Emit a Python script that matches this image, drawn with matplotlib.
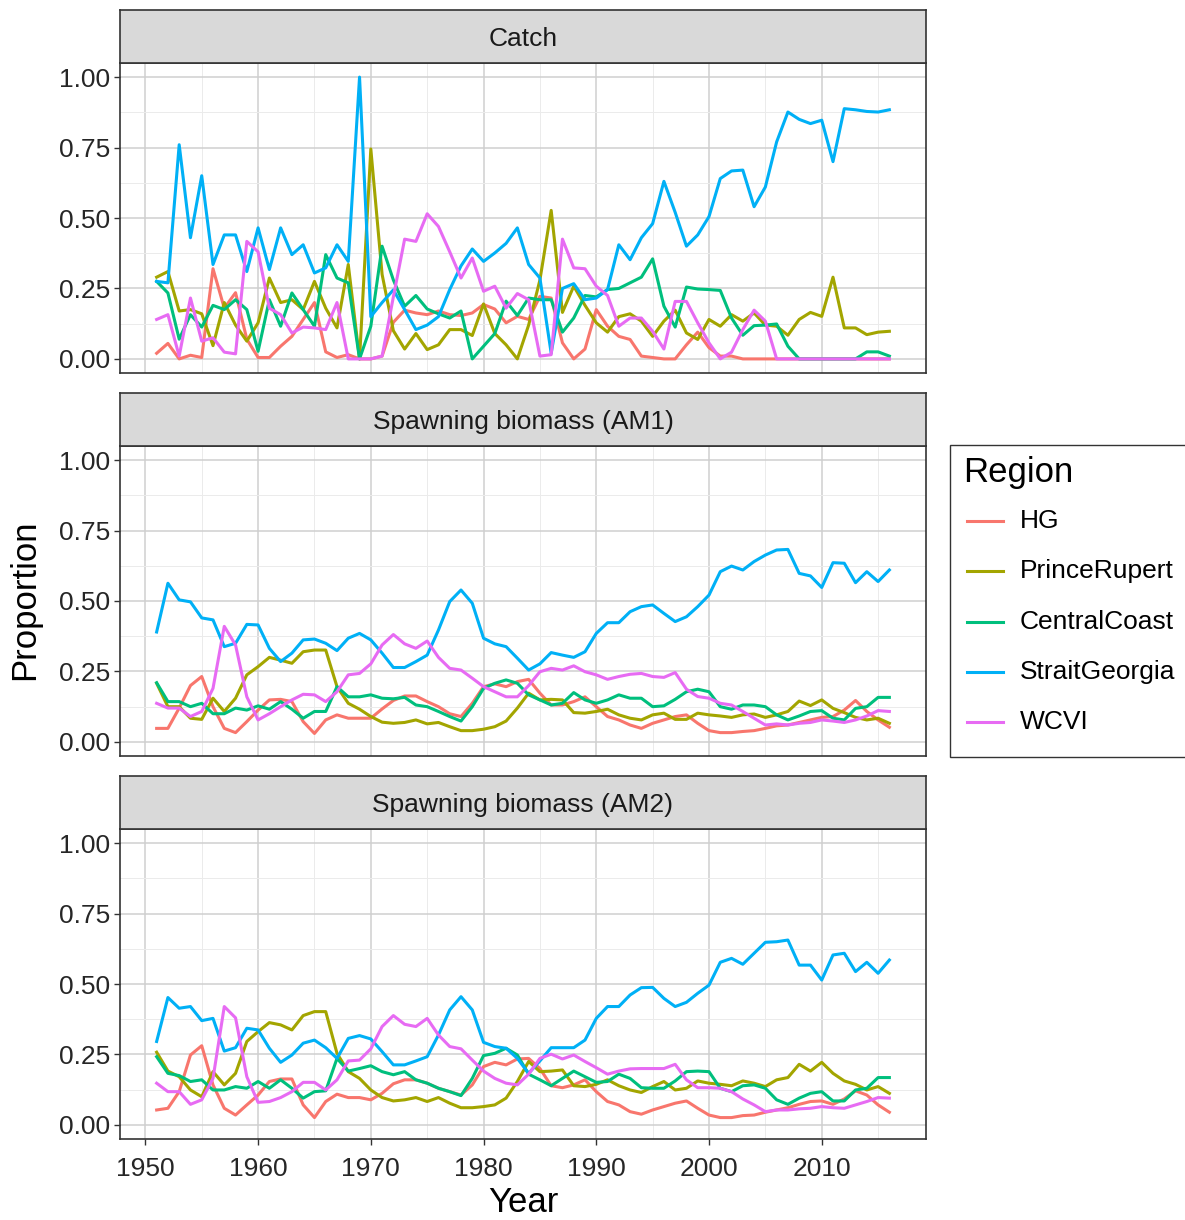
import matplotlib
matplotlib.use("Agg")
import matplotlib.pyplot as plt
from matplotlib.patches import Rectangle
from matplotlib.lines import Line2D

plt.rcParams['font.family'] = ['Liberation Sans', 'DejaVu Sans']

# --- Data: proportion by region, 1951-2016 ---
years = list(range(1951, 2017))
regions = ["HG", "PrinceRupert", "CentralCoast", "StraitGeorgia", "WCVI"]
colors = ["#F8766D", "#A3A500", "#00BF7D", "#00B0F6", "#E76BF3"]

catch_hg = [0.02, 0.055, 0.0, 0.013, 0.005, 0.32, 0.18, 0.235, 0.07, 0.005, 0.005, 0.045, 0.08, 0.14, 0.20, 0.025, 0.005, 0.015, 0.0, 0.0, 0.01, 0.13,
            0.173, 0.163, 0.157, 0.17, 0.157, 0.154, 0.163, 0.193, 0.177, 0.128, 0.151, 0.14, 0.222, 0.216, 0.057, 0.0, 0.035, 0.175, 0.116, 0.08, 0.069, 0.01, 0.005,
            0.0, 0.0, 0.05, 0.095, 0.04, 0.01, 0.01, 0.0, 0.0, 0.0, 0.0, 0.0, 0.0, 0.0, 0.0, 0.0, 0.0, 0.0, 0.0, 0.0, 0.0]
catch_pr = [0.29, 0.31, 0.17, 0.175, 0.16, 0.047, 0.2, 0.12, 0.063, 0.128, 0.287, 0.2, 0.21, 0.175, 0.275, 0.18, 0.11, 0.335, 0.0, 0.745, 0.30, 0.10,
            0.035, 0.09, 0.033, 0.05, 0.104, 0.104, 0.083, 0.195, 0.09, 0.05, 0.0, 0.12, 0.28, 0.527, 0.165, 0.258, 0.19, 0.128, 0.095, 0.15, 0.16, 0.134, 0.08,
            0.134, 0.173, 0.092, 0.069, 0.14, 0.116, 0.157, 0.134, 0.163, 0.12, 0.116, 0.084, 0.14, 0.165, 0.151, 0.29, 0.11, 0.11, 0.086, 0.095, 0.098]
catch_cc = [0.275, 0.234, 0.07, 0.157, 0.113, 0.19, 0.175, 0.21, 0.175, 0.027, 0.21, 0.116, 0.234, 0.175, 0.116, 0.37, 0.287, 0.27, 0.0, 0.116, 0.40, 0.28,
            0.187, 0.225, 0.177, 0.16, 0.145, 0.17, 0.0, 0.045, 0.09, 0.205, 0.154, 0.216, 0.21, 0.21, 0.095, 0.145, 0.225, 0.22, 0.246, 0.25, 0.27, 0.29, 0.355,
            0.187, 0.113, 0.255, 0.248, 0.246, 0.243, 0.145, 0.084, 0.118, 0.12, 0.124, 0.045, 0.0, 0.0, 0.0, 0.0, 0.0, 0.0, 0.025, 0.025, 0.01]
catch_sg = [0.275, 0.27, 0.76, 0.43, 0.65, 0.335, 0.44, 0.44, 0.31, 0.465, 0.317, 0.465, 0.37, 0.405, 0.305, 0.323, 0.405, 0.346, 1.0, 0.15, 0.2, 0.245,
            0.175, 0.104, 0.12, 0.15, 0.246, 0.33, 0.39, 0.346, 0.376, 0.41, 0.465, 0.335, 0.287, 0.02, 0.25, 0.267, 0.21, 0.216, 0.246, 0.405, 0.352, 0.43, 0.48,
            0.63, 0.52, 0.40, 0.44, 0.505, 0.64, 0.667, 0.67, 0.54, 0.61, 0.77, 0.876, 0.85, 0.835, 0.847, 0.70, 0.888, 0.884, 0.878, 0.876, 0.884]
catch_wcvi = [0.14, 0.157, 0.01, 0.216, 0.063, 0.075, 0.024, 0.018, 0.417, 0.38, 0.18, 0.157, 0.092, 0.113, 0.11, 0.104, 0.2, 0.0, 0.0, 0.0, 0.01, 0.22,
              0.425, 0.417, 0.515, 0.47, 0.38, 0.287, 0.358, 0.24, 0.258, 0.18, 0.232, 0.21, 0.01, 0.015, 0.425, 0.323, 0.32, 0.258, 0.225, 0.116, 0.145, 0.145, 0.098,
              0.035, 0.204, 0.204, 0.128, 0.057, 0.0, 0.024, 0.104, 0.173, 0.134, 0.0, 0.0, 0.0, 0.0, 0.0, 0.0, 0.0, 0.0, 0.0, 0.0, 0.0]

am1_hg = [0.048, 0.048, 0.12, 0.2, 0.232, 0.125, 0.048, 0.033, 0.072, 0.113, 0.149, 0.151, 0.143, 0.072, 0.03, 0.078, 0.096, 0.084, 0.084, 0.084, 0.117, 0.147,
          0.163, 0.163, 0.143, 0.125, 0.1, 0.09, 0.137, 0.196, 0.206, 0.196, 0.214, 0.222, 0.173, 0.131, 0.131, 0.143, 0.16, 0.125, 0.09, 0.078, 0.06, 0.048, 0.066,
          0.078, 0.09, 0.096, 0.066, 0.04, 0.033, 0.033, 0.037, 0.04, 0.048, 0.057, 0.06, 0.069, 0.078, 0.087, 0.09, 0.113, 0.147, 0.108, 0.078, 0.052]
am1_pr = [0.208, 0.125, 0.125, 0.084, 0.08, 0.155, 0.108, 0.155, 0.238, 0.267, 0.3, 0.29, 0.279, 0.32, 0.326, 0.326, 0.196, 0.137, 0.116, 0.09, 0.07, 0.066,
          0.069, 0.078, 0.064, 0.069, 0.054, 0.04, 0.04, 0.045, 0.054, 0.074, 0.12, 0.173, 0.149, 0.151, 0.149, 0.104, 0.102, 0.108, 0.116, 0.096, 0.084, 0.078, 0.096,
          0.102, 0.08, 0.08, 0.102, 0.096, 0.092, 0.087, 0.096, 0.099, 0.087, 0.096, 0.108, 0.145, 0.129, 0.149, 0.119, 0.104, 0.087, 0.078, 0.084, 0.066]
am1_cc = [0.21, 0.143, 0.143, 0.125, 0.137, 0.1, 0.1, 0.12, 0.113, 0.128, 0.116, 0.143, 0.116, 0.084, 0.108, 0.108, 0.196, 0.16, 0.16, 0.167, 0.155, 0.153,
          0.158, 0.131, 0.125, 0.108, 0.09, 0.074, 0.125, 0.19, 0.208, 0.22, 0.208, 0.167, 0.149, 0.131, 0.137, 0.175, 0.149, 0.137, 0.149, 0.167, 0.155, 0.155, 0.125,
          0.128, 0.151, 0.178, 0.187, 0.178, 0.125, 0.116, 0.131, 0.131, 0.125, 0.096, 0.078, 0.092, 0.108, 0.111, 0.084, 0.078, 0.119, 0.125, 0.158, 0.158]
am1_sg = [0.39, 0.563, 0.504, 0.497, 0.44, 0.433, 0.338, 0.35, 0.417, 0.415, 0.332, 0.285, 0.315, 0.362, 0.365, 0.35, 0.324, 0.368, 0.385, 0.362, 0.315, 0.264,
          0.264, 0.285, 0.308, 0.397, 0.498, 0.539, 0.492, 0.368, 0.348, 0.338, 0.297, 0.255, 0.277, 0.317, 0.308, 0.3, 0.32, 0.385, 0.423, 0.423, 0.462, 0.48, 0.486,
          0.456, 0.427, 0.444, 0.48, 0.521, 0.604, 0.624, 0.61, 0.64, 0.663, 0.681, 0.683, 0.598, 0.589, 0.548, 0.636, 0.634, 0.565, 0.604, 0.569, 0.61]
am1_wcvi = [0.137, 0.12, 0.12, 0.09, 0.108, 0.19, 0.41, 0.344, 0.16, 0.078, 0.1, 0.125, 0.149, 0.169, 0.167, 0.143, 0.178, 0.238, 0.243, 0.277, 0.344, 0.381,
            0.348, 0.332, 0.358, 0.3, 0.261, 0.255, 0.226, 0.196, 0.178, 0.16, 0.16, 0.2, 0.249, 0.261, 0.255, 0.27, 0.249, 0.238, 0.222, 0.232, 0.24, 0.243, 0.232,
            0.229, 0.246, 0.187, 0.161, 0.155, 0.137, 0.131, 0.108, 0.084, 0.06, 0.064, 0.06, 0.066, 0.069, 0.078, 0.074, 0.069, 0.078, 0.092, 0.111, 0.108]

am2_hg = [0.053, 0.059, 0.118, 0.248, 0.281, 0.142, 0.059, 0.035, 0.071, 0.106, 0.154, 0.163, 0.163, 0.071, 0.026, 0.083, 0.109, 0.097, 0.097, 0.089, 0.112, 0.146,
          0.16, 0.16, 0.148, 0.13, 0.118, 0.106, 0.142, 0.207, 0.222, 0.213, 0.234, 0.236, 0.2, 0.139, 0.132, 0.142, 0.16, 0.118, 0.083, 0.071, 0.047, 0.038, 0.053,
          0.065, 0.077, 0.085, 0.059, 0.035, 0.026, 0.026, 0.033, 0.035, 0.045, 0.053, 0.061, 0.073, 0.083, 0.085, 0.073, 0.092, 0.121, 0.106, 0.071, 0.045]
am2_pr = [0.258, 0.191, 0.171, 0.124, 0.1, 0.189, 0.142, 0.183, 0.296, 0.331, 0.363, 0.355, 0.337, 0.388, 0.402, 0.402, 0.254, 0.189, 0.165, 0.124, 0.097, 0.085,
          0.089, 0.097, 0.083, 0.097, 0.077, 0.061, 0.061, 0.065, 0.071, 0.095, 0.154, 0.225, 0.189, 0.191, 0.195, 0.139, 0.136, 0.144, 0.16, 0.139, 0.124, 0.115, 0.136,
          0.154, 0.124, 0.13, 0.156, 0.148, 0.144, 0.139, 0.156, 0.148, 0.136, 0.16, 0.168, 0.215, 0.191, 0.222, 0.183, 0.156, 0.144, 0.124, 0.136, 0.112]
am2_cc = [0.242, 0.183, 0.175, 0.154, 0.16, 0.124, 0.124, 0.136, 0.13, 0.154, 0.13, 0.16, 0.13, 0.095, 0.118, 0.121, 0.236, 0.191, 0.2, 0.21, 0.189, 0.178,
          0.189, 0.16, 0.148, 0.13, 0.118, 0.104, 0.165, 0.246, 0.254, 0.272, 0.248, 0.18, 0.16, 0.139, 0.165, 0.191, 0.171, 0.151, 0.154, 0.18, 0.165, 0.132, 0.13,
          0.13, 0.156, 0.189, 0.191, 0.189, 0.13, 0.118, 0.139, 0.142, 0.13, 0.089, 0.073, 0.095, 0.112, 0.118, 0.085, 0.085, 0.124, 0.13, 0.168, 0.168]
am2_sg = [0.296, 0.452, 0.414, 0.42, 0.37, 0.378, 0.262, 0.274, 0.343, 0.337, 0.272, 0.222, 0.248, 0.29, 0.301, 0.274, 0.236, 0.307, 0.317, 0.305, 0.26, 0.213,
          0.213, 0.227, 0.242, 0.319, 0.408, 0.455, 0.408, 0.293, 0.278, 0.272, 0.236, 0.183, 0.227, 0.274, 0.274, 0.274, 0.301, 0.378, 0.42, 0.42, 0.461, 0.487, 0.488,
          0.449, 0.42, 0.435, 0.467, 0.496, 0.577, 0.591, 0.57, 0.609, 0.648, 0.65, 0.656, 0.567, 0.567, 0.514, 0.603, 0.609, 0.544, 0.577, 0.538, 0.585]
am2_wcvi = [0.148, 0.118, 0.118, 0.073, 0.089, 0.165, 0.42, 0.38, 0.171, 0.08, 0.083, 0.097, 0.118, 0.151, 0.151, 0.124, 0.16, 0.227, 0.23, 0.27, 0.349, 0.388,
            0.357, 0.349, 0.378, 0.319, 0.278, 0.27, 0.23, 0.191, 0.165, 0.148, 0.142, 0.18, 0.236, 0.251, 0.234, 0.248, 0.225, 0.203, 0.18, 0.191, 0.199, 0.2, 0.2,
            0.2, 0.215, 0.16, 0.132, 0.132, 0.13, 0.118, 0.092, 0.071, 0.047, 0.053, 0.053, 0.057, 0.059, 0.065, 0.061, 0.059, 0.071, 0.083, 0.097, 0.095]

panels = [
    ("Catch", [catch_hg, catch_pr, catch_cc, catch_sg, catch_wcvi]),
    ("Spawning biomass (AM1)", [am1_hg, am1_pr, am1_cc, am1_sg, am1_wcvi]),
    ("Spawning biomass (AM2)", [am2_hg, am2_pr, am2_cc, am2_sg, am2_wcvi]),
]

# --- Figure layout (pixel based) ---
W, H = 1185, 1220
fig = plt.figure(figsize=(W / 100, H / 100), dpi=100)


def box(left, top, width, height):
    return [left / W, 1 - (top + height) / H, width / W, height / H]


TICK_SIZE = 19
TITLE_SIZE = 25
DARK = "#333333"
LW = 2.2

for i, (title, series) in enumerate(panels):
    top = 63 + i * 383
    ax = fig.add_axes(box(120, top, 806, 310))
    strip = fig.add_axes(box(120, top - 53, 806, 53))

    for vals, col in zip(series, colors):
        ax.plot(years, vals, color=col, lw=LW, solid_joinstyle="round")

    ax.set_xlim(1947.75, 2019.25)
    ax.set_ylim(-0.05, 1.05)
    ax.set_xticks(range(1950, 2011, 10))
    ax.set_xticks(range(1955, 2016, 10), minor=True)
    ax.set_yticks([0, 0.25, 0.5, 0.75, 1.0])
    ax.set_yticklabels(["0.00", "0.25", "0.50", "0.75", "1.00"])
    ax.set_yticks([0.125, 0.375, 0.625, 0.875], minor=True)
    ax.grid(which="major", color="#CFCFCF", lw=1.1)
    ax.grid(which="minor", color="#EBEBEB", lw=0.7)
    ax.set_axisbelow(True)
    ax.tick_params(which="minor", length=0)
    ax.tick_params(which="major", length=4, width=1, color=DARK,
                   labelsize=TICK_SIZE, labelcolor="#262626", pad=3)
    if i < 2:
        ax.tick_params(axis="x", length=0, labelbottom=False)
    else:
        ax.tick_params(axis="x", pad=9)
    for sp in ax.spines.values():
        sp.set_color(DARK)
        sp.set_linewidth(1.2)

    # facet strip
    strip.set_facecolor("#D9D9D9")
    strip.set_xticks([])
    strip.set_yticks([])
    for sp in strip.spines.values():
        sp.set_color(DARK)
        sp.set_linewidth(1.2)
    strip.text(0.5, 0.46, title, transform=strip.transAxes, ha="center",
               va="center", fontsize=TICK_SIZE, color="#1A1A1A")

fig.text(25 / W, 1 - 600 / H, "Proportion", rotation=90, ha="center",
         va="center", fontsize=TITLE_SIZE)
fig.text(523 / W, 1 - 1202 / H, "Year", ha="center", va="center",
         fontsize=TITLE_SIZE)

# --- Legend ---
fig.add_artist(Rectangle((950 / W, 1 - 757 / H), 245 / W, 312 / H,
                         transform=fig.transFigure, facecolor="white",
                         edgecolor=DARK, lw=1.0))
fig.text(963 / W, 1 - 472 / H, "Region", ha="left", va="center",
         fontsize=TITLE_SIZE)
for k, (name, col) in enumerate(zip(regions, colors)):
    y = 1 - (521 + k * 50.3) / H
    fig.add_artist(Line2D([967 / W, 1003 / W], [y, y], color=col, lw=LW,
                          transform=fig.transFigure))
    fig.text(1020 / W, y, name, ha="left", va="center", fontsize=TICK_SIZE)

fig.savefig("out.png", dpi=100)
